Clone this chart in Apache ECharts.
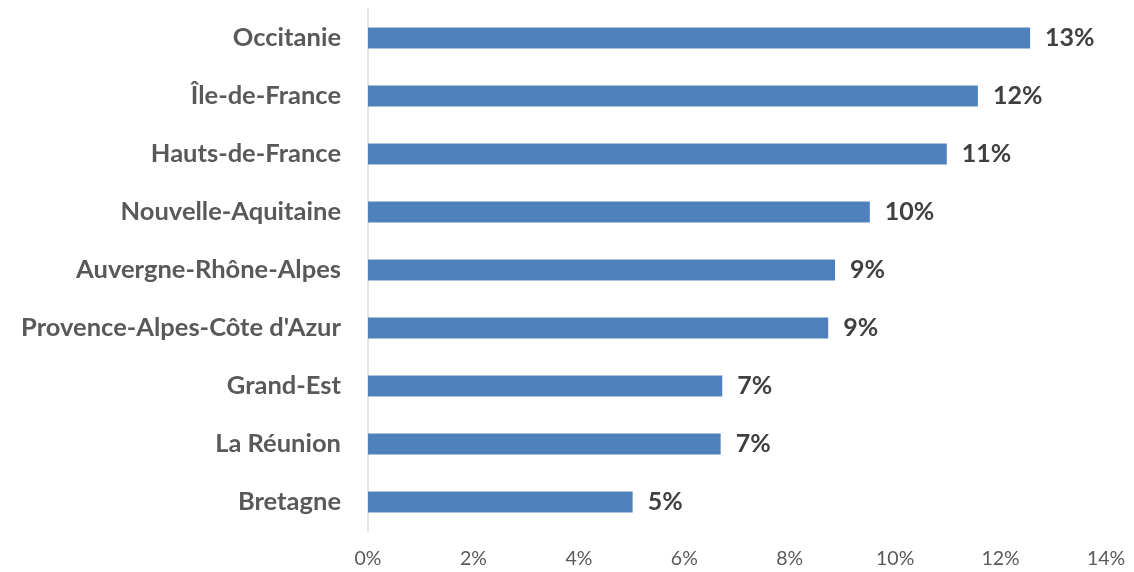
<!DOCTYPE html>
<html>
<head>
<meta charset="utf-8">
<script src="https://cdn.jsdelivr.net/npm/echarts@6/dist/echarts.min.js"></script>
<style>html,body{margin:0;padding:0;background:#fff}#c{width:1134px;height:572px}</style>
</head>
<body>
<div id="c"></div>
<script>
var categories = ["Occitanie","Île-de-France","Hauts-de-France","Nouvelle-Aquitaine","Auvergne-Rhône-Alpes","Provence-Alpes-Côte d'Azur","Grand-Est","La Réunion","Bretagne"];
var values = [12.56, 11.57, 10.98, 9.52, 8.86, 8.73, 6.72, 6.69, 5.02];
var xTicks = [0, 2, 4, 6, 8, 10, 12, 14];

var chart = echarts.init(document.getElementById('c'));
chart.setOption({
  animation: false,
  grid: {left: 368, right: 28, top: 9, bottom: 41, containLabel: false},
  xAxis: {
    type: 'value', min: xTicks[0], max: xTicks[xTicks.length - 1], interval: 2,
    axisLine: {show: false}, axisTick: {show: false}, splitLine: {show: false},
    axisLabel: {formatter: function(v){return v + '%';}, color: '#595959', fontFamily: 'Lato', fontSize: 19.5, margin: 18}
  },
  yAxis: {
    type: 'category', data: categories, inverse: true,
    axisLine: {show: true, lineStyle: {color: '#d9d9d9', width: 1.5}},
    axisTick: {show: false},
    axisLabel: {color: '#595959', fontFamily: 'Lato', fontWeight: 'bold', fontSize: 25.5, margin: 27}
  },
  series: [{
    type: 'bar', data: values, barWidth: '36%',
    itemStyle: {color: '#4f81bd'},
    label: {show: true, position: 'right', distance: 15, color: '#404040', fontFamily: 'Lato', fontWeight: 'bold', fontSize: 25,
      formatter: function(p){return Math.round(p.value) + '%';}}
  }]
});
</script>
</body>
</html>
